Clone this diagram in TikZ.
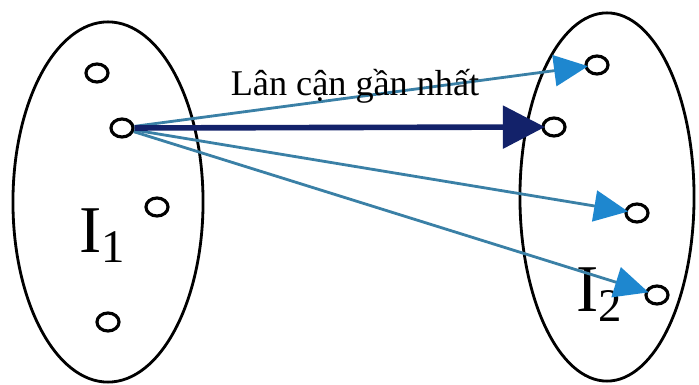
\documentclass[tikz,border=0pt]{standalone}
\usepackage{fontspec}
\setmainfont{Liberation Serif}
\usetikzlibrary{arrows.meta, shapes.geometric}
\definecolor{navy}{HTML}{13226A}
\definecolor{lineblue}{HTML}{3A80A6}
\definecolor{tipblue}{HTML}{1E87CF}

\begin{document}
\begin{tikzpicture}[x=0.01cm, y=-0.01cm,
    pt/.style={draw, ellipse, line width=0.9pt, minimum width=0.22cm, minimum height=0.18cm, inner sep=0pt},
    cluster/.style={draw, line width=0.8pt},
    setname/.style={font=\fontsize{19}{21}\selectfont},
    nearest/.style={-{Triangle[length=0.42cm, width=0.42cm]}, line width=1.6pt, navy, shorten >=-1pt},
    arrow/.style={-{Triangle[length=0.34cm, width=0.31cm, color=tipblue]}, line width=0.8pt, lineblue, shorten >=-1pt}
]
    \useasboundingbox (0,0) rectangle (699,385);
    \draw[cluster] (108,202) ellipse [x radius=0.95cm, y radius=1.8cm];
    \draw[cluster] (607,197) ellipse [x radius=0.87cm, y radius=1.84cm];

    \node[setname] (l1) at (103,236) {I\textsubscript{1}};
    \node[setname] (l2) at (600,295) {I\textsubscript{2}};

    \node[pt] (p1) at (97,73) {};
    \node[pt] (src) at (122,128) {};
    \node[pt] (p3) at (157,207) {};
    \node[pt] (p4) at (108,322) {};

    \node[pt] (q1) at (597,65) {};
    \node[pt] (q2) at (554,127) {};
    \node[pt] (q3) at (637,213) {};
    \node[pt] (q4) at (657,295) {};

    \draw[arrow] (src) -- (q1);
    \draw[arrow] (src) -- (q3);
    \draw[arrow] (src) -- (q4);
    \draw[nearest] (src) -- (q2);

    \node[font=\fontsize{10.3}{12}\selectfont, anchor=base] (lbl) at (355,96) {Lân cận gần nhất};
\end{tikzpicture}
\end{document}
